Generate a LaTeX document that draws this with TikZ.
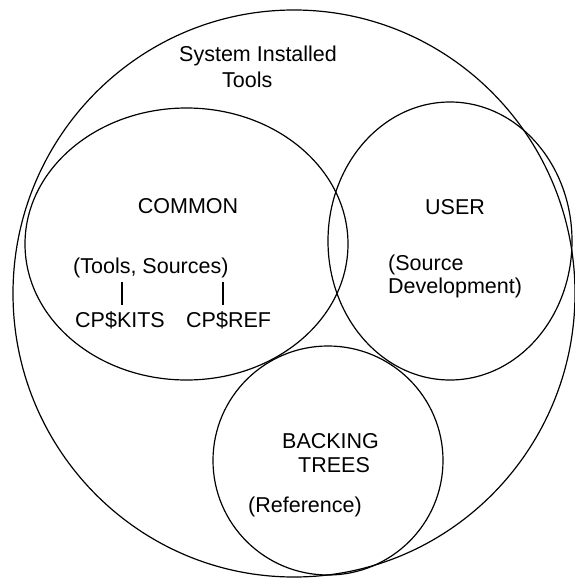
\documentclass[tikz,border=0pt]{standalone}
\usepackage{fontspec}
\setmainfont{Liberation Sans}
\usetikzlibrary{shapes.geometric}
\begin{document}
\begin{tikzpicture}[x=1pt,y=-1pt,
  region/.style={draw=black,line width=1.2pt,ellipse,inner sep=0pt,fill=none},
  lbl/.style={anchor=base west,inner sep=0pt,font=\fontsize{21.5}{25}\selectfont},
  tick/.style={draw=black,line width=1.2pt}]
\useasboundingbox (0,0) rectangle (574,578);
\fill[white] (0,0) rectangle (574,578);

% regions
\node[region,minimum width=562pt,minimum height=567pt] (sys) at (294,293.5) {};
\node[region,minimum width=323pt,minimum height=272pt] (common) at (186.5,244) {};
\node[region,minimum width=244pt,minimum height=278pt] (user) at (450,241) {};
\node[region,minimum width=230pt,minimum height=229pt] (backing) at (328,460.5) {};

% system label
\node[lbl] (systxt1) at (179,62) {System Installed};
\node[lbl] (systxt2) at (222,87) {Tools};

% common area
\node[lbl,anchor=base] (commontxt) at (188,213) {COMMON};
\node[lbl] (toolsrc) at (73,273) {(Tools, Sources)};
\node[lbl] (kits) at (75,327) {CP\$KITS};
\node[lbl] (ref) at (186,327) {CP\$REF};
\coordinate (kitsA) at (122,282);
\coordinate (kitsB) at (122,305);
\coordinate (refA) at (223,282);
\coordinate (refB) at (223,305);
\draw[tick] (kitsA) -- (kitsB);
\draw[tick] (refA) -- (refB);

% user area
\node[lbl,anchor=base] (usertxt) at (455,214) {USER};
\node[lbl] (src1) at (388,270) {(Source};
\node[lbl] (src2) at (388,293) {Development)};

% backing trees area
\node[lbl] (back1) at (282,448) {BACKING};
\node[lbl] (back2) at (298,472) {TREES};
\node[lbl] (reftxt) at (248,512) {(Reference)};
\end{tikzpicture}
\end{document}
